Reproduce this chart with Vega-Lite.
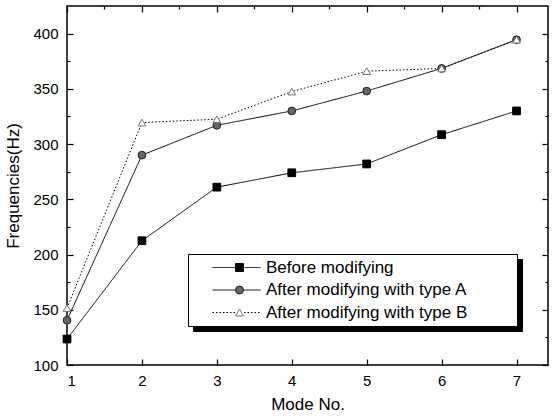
{
  "$schema": "https://vega.github.io/schema/vega-lite/v6.json",
  "width": 481,
  "height": 359,
  "autosize": "none",
  "padding": {"left": 67, "top": 6, "right": 6, "bottom": 55},
  "background": "white",
  "config": {
    "font": "Liberation Sans",
    "view": {"stroke": "black", "strokeWidth": 1.5},
    "axis": {"grid": false, "domain": false, "tickColor": "black", "labelColor": "black", "titleColor": "black", "labelFont": "Liberation Sans", "titleFont": "Liberation Sans", "labelFontSize": 15, "titleFontSize": 17, "titleFontWeight": "normal", "tickWidth": 1.2}
  },
  "data": {
    "values": [
      {"mode": 1, "freq": 123.5, "series": "Before modifying"},
      {"mode": 2, "freq": 212.5, "series": "Before modifying"},
      {"mode": 3, "freq": 261, "series": "Before modifying"},
      {"mode": 4, "freq": 274, "series": "Before modifying"},
      {"mode": 5, "freq": 282, "series": "Before modifying"},
      {"mode": 6, "freq": 308.5, "series": "Before modifying"},
      {"mode": 7, "freq": 330, "series": "Before modifying"},
      {"mode": 1, "freq": 140.5, "series": "After modifying with type A"},
      {"mode": 2, "freq": 290, "series": "After modifying with type A"},
      {"mode": 3, "freq": 317, "series": "After modifying with type A"},
      {"mode": 4, "freq": 330, "series": "After modifying with type A"},
      {"mode": 5, "freq": 348, "series": "After modifying with type A"},
      {"mode": 6, "freq": 368.5, "series": "After modifying with type A"},
      {"mode": 7, "freq": 394.5, "series": "After modifying with type A"},
      {"mode": 1, "freq": 151.5, "series": "After modifying with type B"},
      {"mode": 2, "freq": 319.5, "series": "After modifying with type B"},
      {"mode": 3, "freq": 322.5, "series": "After modifying with type B"},
      {"mode": 4, "freq": 347.5, "series": "After modifying with type B"},
      {"mode": 5, "freq": 366, "series": "After modifying with type B"},
      {"mode": 6, "freq": 368.5, "series": "After modifying with type B"},
      {"mode": 7, "freq": 394.5, "series": "After modifying with type B"}
    ]
  },
  "resolve": {"axis": {"x": "independent", "y": "independent"}},
  "layer": [
    {
      "mark": {"type": "line", "color": "black"},
      "encoding": {
        "x": {"field": "mode", "type": "quantitative", "scale": {"domain": [1, 7.42], "nice": false, "zero": false},
          "axis": {"title": "Mode No.", "values": [1, 1.5, 2, 2.5, 3, 3.5, 4, 4.5, 5, 5.5, 6, 6.5, 7], "format": "d", "labelExpr": "datum.value % 1 === 0 ? datum.label : ''", "tickSize": {"condition": {"test": "datum.value % 1 === 0", "value": -6}, "value": -3}, "labelPadding": 14, "titlePadding": 8}},
        "y": {"field": "freq", "type": "quantitative", "scale": {"domain": [100, 425], "nice": false, "zero": false},
          "axis": {"title": "Frequencies(Hz)", "values": [100, 125, 150, 175, 200, 225, 250, 275, 300, 325, 350, 375, 400], "format": "d", "labelExpr": "datum.value % 50 === 0 ? datum.label : ''", "tickSize": {"condition": {"test": "datum.value % 50 === 0", "value": -6}, "value": -3}, "labelPadding": 15, "titlePadding": 10}},
        "strokeDash": {"field": "series", "type": "nominal", "sort": ["Before modifying", "After modifying with type A", "After modifying with type B"],
          "scale": {"range": [[1, 0], [1, 0], [1.5, 2]]},
          "legend": {"orient": "none", "legendX": 121, "legendY": 248, "title": "\u00a0", "titleOrient": "right", "titleFontSize": 10, "titlePadding": 45, "zindex": 1,
            "fillColor": "white", "strokeColor": "black", "padding": 5, "symbolType": "stroke", "symbolSize": 2304, "symbolStrokeColor": "black", "symbolStrokeWidth": 1, "symbolOffset": 19, "labelOffset": 5, "clipHeight": 17, "rowPadding": 4.5, "labelFontSize": 17, "labelLimit": 400, "labelFont": "Liberation Sans", "labelColor": "black"}},
        "strokeWidth": {"field": "series", "type": "nominal", "sort": ["After modifying with type B", "After modifying with type A", "Before modifying"],
          "scale": {"range": [1, 1, 1.3]},
          "legend": {"orient": "none", "legendX": 126, "legendY": 253, "title": "\u00a0", "titleOrient": "right", "titleFontSize": 10, "titlePadding": 45, "zindex": 0,
            "fillColor": "black", "strokeColor": "black", "padding": 5, "symbolType": "stroke", "symbolSize": 2304, "symbolOpacity": 0, "symbolOffset": 19, "labelOffset": 5, "clipHeight": 17, "rowPadding": 4.5, "labelFontSize": 17, "labelLimit": 400, "labelFont": "Liberation Sans", "labelOpacity": 0}}
      }
    },
    {
      "mark": {"type": "point", "size": 60, "opacity": 1, "strokeWidth": 1},
      "encoding": {
        "x": {"field": "mode", "type": "quantitative", "axis": {"orient": "top", "labels": false, "title": null, "values": [1, 1.5, 2, 2.5, 3, 3.5, 4, 4.5, 5, 5.5, 6, 6.5, 7], "tickSize": {"condition": {"test": "datum.value % 1 === 0", "value": -6}, "value": -3}}},
        "y": {"field": "freq", "type": "quantitative", "axis": {"orient": "right", "labels": false, "title": null, "values": [100, 125, 150, 175, 200, 225, 250, 275, 300, 325, 350, 375, 400], "tickSize": {"condition": {"test": "datum.value % 50 === 0", "value": -6}, "value": -3}}},
        "shape": {"field": "series", "type": "nominal",
          "scale": {"domain": ["Before modifying", "After modifying with type A", "After modifying with type B"], "range": ["square", "circle", "triangle-up"]},
          "legend": {"orient": "none", "legendX": 121, "legendY": 248, "title": null, "zindex": 2, "padding": 5, "symbolSize": 64, "symbolOffset": 38, "clipHeight": 17, "rowPadding": 4.5, "labelFontSize": 17, "labelLimit": 400, "labelOpacity": 0, "symbolStrokeWidth": 1, "symbolOpacity": 1}},
        "fill": {"field": "series", "type": "nominal",
          "scale": {"domain": ["Before modifying", "After modifying with type A", "After modifying with type B"], "range": ["black", "#666666", "white"]},
          "legend": {"orient": "none", "legendX": 121, "legendY": 248, "title": null, "zindex": 2, "padding": 5, "symbolSize": 64, "symbolOffset": 38, "clipHeight": 17, "rowPadding": 4.5, "labelFontSize": 17, "labelLimit": 400, "labelOpacity": 0, "symbolStrokeWidth": 1, "symbolOpacity": 1}},
        "stroke": {"field": "series", "type": "nominal",
          "scale": {"domain": ["Before modifying", "After modifying with type A", "After modifying with type B"], "range": ["black", "#222222", "#777777"]},
          "legend": {"orient": "none", "legendX": 121, "legendY": 248, "title": null, "zindex": 2, "padding": 5, "symbolSize": 64, "symbolOffset": 38, "clipHeight": 17, "rowPadding": 4.5, "labelFontSize": 17, "labelLimit": 400, "labelOpacity": 0, "symbolStrokeWidth": 1, "symbolOpacity": 1}}
      }
    }
  ]
}
